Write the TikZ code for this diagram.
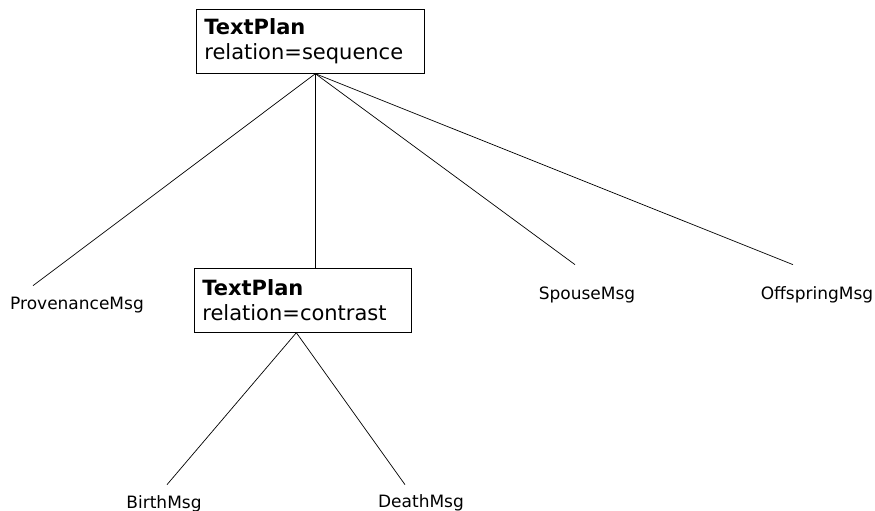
\documentclass[tikz,border=0pt]{standalone}
\usepackage{fontspec}
\setmainfont{DejaVu Sans}
\usetikzlibrary{positioning}

\begin{document}
\begin{tikzpicture}[
    x=1pt, y={(0pt,-1pt)},
    line width=0.7pt,
    plan/.style={draw, align=left, anchor=north west, text width=#1,
                 inner xsep=8pt, inner ysep=9pt, minimum height=64pt,
                 font=\fontsize{21}{25}\selectfont},
    msg/.style={anchor=base, inner sep=0pt, text height=12pt, text depth=3.5pt,
                font=\fontsize{17}{20}\selectfont},
  ]
  \useasboundingbox (0,0) rectangle (875,511);

  % --- text plans ---
  \node[plan=212pt] (seq) at (196,9)
    {\textbf{TextPlan}\\relation=sequence};
  \node[plan=201pt] (contrast) at (194,268)
    {\textbf{TextPlan}\\relation=contrast};

  % --- messages ---
  \node[msg] (prov)   at (77,309)  {ProvenanceMsg};
  \node[msg] (spouse) at (587,299) {SpouseMsg};
  \node[msg] (offspr) at (817,299) {OffspringMsg};
  \node[msg] (birth)  at (164,508) {BirthMsg};
  \node[msg] (death)  at (421,507) {DeathMsg};

  % --- tree edges ---
  \draw ([xshift=5pt]seq.south) -- ([xshift=-44pt,yshift=11pt]prov.north);
  \draw ([xshift=5pt]seq.south) -- ([xshift=12.5pt]contrast.north);
  \draw ([xshift=5pt]seq.south) -- ([xshift=-12pt,yshift=22pt]spouse.north);
  \draw ([xshift=5pt]seq.south) -- ([xshift=-24pt,yshift=22pt]offspr.north);
  \draw ([xshift=-6.5pt]contrast.south) -- ([xshift=3pt,yshift=11pt]birth.north);
  \draw ([xshift=-6.5pt]contrast.south) -- ([xshift=-16pt,yshift=10pt]death.north);

\end{tikzpicture}
\end{document}
